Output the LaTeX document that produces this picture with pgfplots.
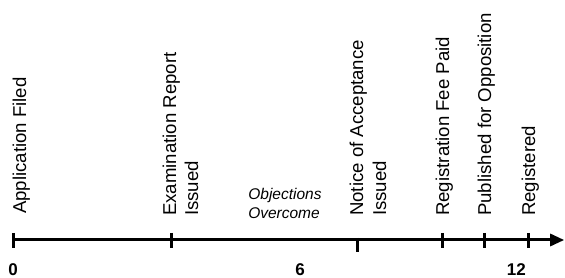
\documentclass[border=0pt]{standalone}
\usepackage{pgfplots}
\pgfplotsset{compat=1.18}
\usepackage{fontspec}
\setmainfont{Liberation Sans}
\usetikzlibrary{arrows.meta}
\newcommand{\lbl}{\fontsize{18.6}{22}\selectfont}
\newcommand{\obj}{\itshape\fontsize{15.5}{19}\selectfont}
\newcommand{\num}{\bfseries\fontsize{17}{20}\selectfont}
\begin{document}
\begin{tikzpicture}
\begin{axis}[
  scale only axis, width=565pt, height=278pt,
  xmin=-0.3333, xmax=13.119, ymin=0, ymax=278,
  axis lines=none, clip=false,
]
% timeline axis
\addplot[black, line width=3pt, -{Triangle[length=14pt,width=12pt]}] coordinates {(0,38) (13.10,38)};
% event ticks (months)
\addplot[black, line width=3pt, unbounded coords=jump] coordinates {
  (0,45) (0,30) (0,nan)
  (3.76,45) (3.76,30) (3.76,nan)
  (8.19,40) (8.19,26) (8.19,nan)
  (10.21,45) (10.21,30) (10.21,nan)
  (11.21,45) (11.21,30) (11.21,nan)
  (12.26,45) (12.26,30)
};
% event labels
\node[rotate=90, anchor=base west, inner sep=0pt, font=\lbl] at (axis cs:0.29,64) {Application Filed};
\node[rotate=90, anchor=base west, inner sep=0pt, font=\lbl] at (axis cs:3.862,62) {Examination Report};
\node[rotate=90, anchor=base west, inner sep=0pt, font=\lbl] at (axis cs:4.386,62) {Issued};
\node[rotate=90, anchor=base west, inner sep=0pt, font=\lbl] at (axis cs:8.314,62) {Notice of Acceptance};
\node[rotate=90, anchor=base west, inner sep=0pt, font=\lbl] at (axis cs:8.857,62) {Issued};
\node[rotate=90, anchor=base west, inner sep=0pt, font=\lbl] at (axis cs:10.362,62) {Registration Fee Paid};
\node[rotate=90, anchor=base west, inner sep=0pt, font=\lbl] at (axis cs:11.362,62) {Published for Opposition};
\node[rotate=90, anchor=base west, inner sep=0pt, font=\lbl] at (axis cs:12.405,62) {Registered};
% italic note
\node[anchor=base, inner sep=0pt, font=\obj] at (axis cs:6.452,78) {Objections};
\node[anchor=base, inner sep=0pt, font=\obj] at (axis cs:6.429,59) {Overcome};
% month numbers
\node[anchor=base, inner sep=0pt, font=\num] at (axis cs:-0.024,2.5) {0};
\node[anchor=base, inner sep=0pt, font=\num] at (axis cs:6.81,2.5) {6};
\node[anchor=base, inner sep=0pt, font=\num] at (axis cs:11.96,2.5) {12};
\end{axis}
\pgfresetboundingbox
\path (current axis.south west) rectangle (current axis.north east);
\end{tikzpicture}
\end{document}
